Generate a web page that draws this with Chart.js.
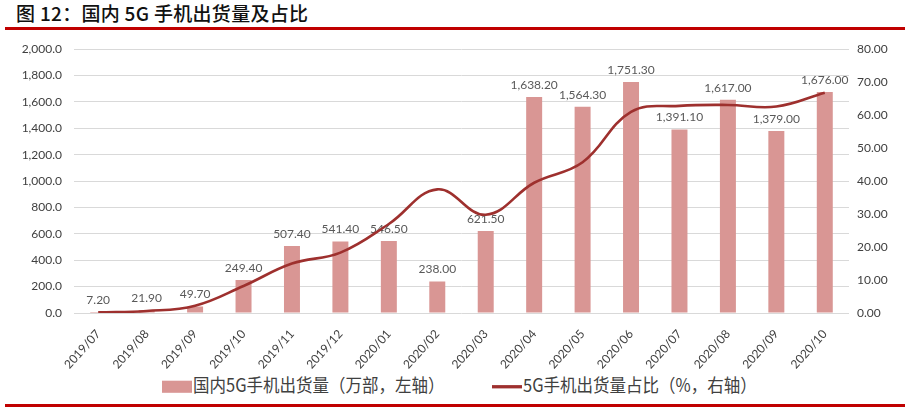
<!DOCTYPE html>
<html>
<head>
<meta charset="utf-8">
<script src="https://cdn.jsdelivr.net/npm/chart.js@4"></script>
<style>
  body { margin: 0; background: #fff; }
  #wrap { position: relative; width: 910px; height: 410px; overflow: hidden; font-family: "Noto Sans CJK SC", sans-serif; }
  #title { position: absolute; left: 16px; top: -1px; font-size: 19px; font-weight: 500; color: #111; letter-spacing: 0.3px; }
  .redline { position: absolute; left: 5px; width: 900px; height: 3px; background: #c00000; }
  #chartBox { position: absolute; left: 0; top: 30px; width: 910px; height: 340px; }
  #legend { position: absolute; top: 372px; left: 0; width: 910px; font-size: 16.5px; color: #404040; }
  .item { position: absolute; top: 0; white-space: nowrap; transform: scaleY(1.1); transform-origin: left center; }
  .sw { display: inline-block; vertical-align: middle; }
</style>
</head>
<body>
<div id="wrap">
  <div id="title">图 12：国内 5G 手机出货量及占比</div>
  <div class="redline" style="top:27px"></div>
  <div id="chartBox"><canvas id="chart" width="910" height="340"></canvas></div>
  <div id="legend"></div>
  <div class="redline" style="top:404px"></div>
</div>
<script>
// 数据
const months = ["2019/07", "2019/08", "2019/09", "2019/10", "2019/11", "2019/12", "2020/01", "2020/02",
    "2020/03", "2020/04", "2020/05", "2020/06", "2020/07", "2020/08", "2020/09", "2020/10"];
const shipments = [7.2, 21.9, 49.7, 249.4, 507.4, 541.4, 546.5, 238.0,
    621.5, 1638.2, 1564.3, 1751.3, 1391.1, 1617.0, 1379.0, 1676.0];
const share = [0.2, 0.6, 2.2, 8.2, 15.0, 18.3, 27.0, 37.5,
    29.8, 39.5, 45.7, 61.0, 62.8, 63.1, 62.6, 66.8];
const barLabel = "国内5G手机出货量（万部，左轴）";
const lineLabel = "5G手机出货量占比（%，右轴）";

const barColor = "#d99694";
const lineColor = "#9e302e";
const tickFont = { family: "Lato, 'Liberation Sans', sans-serif", size: 12 };

const fmt2 = v => v.toLocaleString("en-US", { minimumFractionDigits: 2, maximumFractionDigits: 2 });
const fmt1 = v => v.toLocaleString("en-US", { minimumFractionDigits: 1, maximumFractionDigits: 1 });

// 柱子上方的数值标签（在折线之前画，折线会压在上面）
const barValues = {
    id: "barValues",
    afterDatasetDraw(chart, args) {
        if (args.index !== 1) return;
        const ctx = chart.ctx;
        ctx.save();
        ctx.font = "12px Lato, 'Liberation Sans', sans-serif";
        ctx.fillStyle = "#595959";
        ctx.textAlign = "center";
        ctx.textBaseline = "bottom";
        args.meta.data.forEach((bar, i) => {
            ctx.fillText(fmt2(shipments[i]), bar.x, bar.y - 6);
        });
        ctx.restore();
    }
};

new Chart(document.getElementById("chart"), {
    data: {
        labels: months,
        datasets: [
            {
                type: "line",
                label: lineLabel,
                data: share,
                yAxisID: "y2",
                borderColor: lineColor,
                borderWidth: 2.6,
                pointRadius: 0,
                tension: 0.4,
                order: 0
            },
            {
                type: "bar",
                label: barLabel,
                data: shipments,
                yAxisID: "y",
                backgroundColor: barColor,
                barPercentage: 0.33,
                categoryPercentage: 1,
                order: 1
            }
        ]
    },
    options: {
        responsive: false,
        animation: false,
        devicePixelRatio: 1,
        layout: { padding: { top: 15, left: 0, right: 0, bottom: 0 } },
        plugins: { legend: { display: false }, tooltip: { enabled: false } },
        scales: {
            x: {
                grid: { display: false },
                border: { display: false },
                ticks: { font: tickFont, color: "#404040", autoSkip: false, minRotation: 48, maxRotation: 48, padding: 6 },
                afterFit(scale) { scale.height = 57; }
            },
            y: {
                position: "left",
                min: 0, max: 2000,
                ticks: { stepSize: 200, font: tickFont, color: "#404040", padding: 12, callback: v => fmt1(v) },
                grid: { color: "#d9d9d9", drawTicks: false },
                border: { display: false },
                afterFit(scale) { scale.width = 74; }
            },
            y2: {
                position: "right",
                min: 0, max: 80,
                ticks: { stepSize: 10, font: tickFont, color: "#404040", padding: 8, callback: v => fmt2(v) },
                grid: { display: false, drawTicks: false },
                border: { display: false },
                afterFit(scale) { scale.width = 61; }
            }
        }
    },
    plugins: [barValues]
});

// 图例
const legend = document.getElementById("legend");
legend.innerHTML =
    '<div class="item" style="left:162px"><span class="sw" style="width:30px;height:11px;background:' + barColor + ';margin-right:1px"></span>' + barLabel + '</div>' +
    '<div class="item" style="left:492px"><span class="sw" style="width:30px;height:3px;background:' + lineColor + ';margin-right:1px"></span>' + lineLabel + '</div>';
</script>
</body>
</html>
